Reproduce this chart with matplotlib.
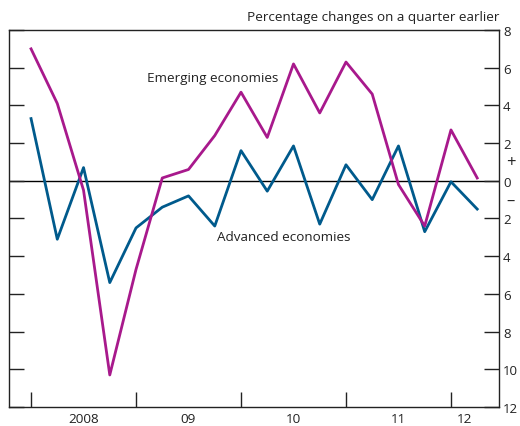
import numpy as np
import matplotlib.pyplot as plt
import matplotlib.transforms as mtransforms

plt.rcParams['font.family'] = ['Open Sans', 'DejaVu Sans']

# quarterly, 2008 Q1 to 2012 Q2
quarters = np.arange(18)
emerging = [7.0, 4.1, -0.5, -10.3, -4.7, 0.15, 0.6, 2.4, 4.7, 2.3,
            6.2, 3.6, 6.3, 4.6, -0.2, -2.4, 2.7, 0.15]
advanced = [3.3, -3.1, 0.7, -5.4, -2.5, -1.4, -0.8, -2.4, 1.6, -0.55,
            1.85, -2.3, 0.85, -1.0, 1.85, -2.7, -0.05, -1.5]
year_labels = ['2008', '09', '10', '11', '12']
year_label_pos = [2, 6, 10, 14, 16.5]
year_ticks = [0, 4, 8, 12, 16]
y_ticks = np.arange(-12, 9, 2)

magenta = '#A8198C'
blue = '#005A8C'
txt = '#222222'

fig = plt.figure(figsize=(5.2, 4.27), dpi=100)
ax = fig.add_axes([0.0173, 0.0445, 0.9423, 0.8829])

ax.axhline(0, color='black', lw=1.0, zorder=1)
ax.plot(quarters, emerging, color=magenta, lw=2.0, zorder=3)
ax.plot(quarters, advanced, color=blue, lw=2.0, zorder=2)

ax.set_xlim(-0.84, 17.83)
ax.set_ylim(-12, 8)

for s in ax.spines.values():
    s.set_linewidth(1.0)
    s.set_color(txt)

ax.set_yticks(y_ticks)
ax.set_yticklabels([str(abs(v)) for v in y_ticks])
ax.tick_params(axis='y', direction='in', length=11, width=1.0, color=txt,
               left=True, right=True, labelleft=False, labelright=True,
               labelsize=9.5, pad=3, labelcolor=txt)
ax.set_xticks(year_ticks)
ax.set_xticklabels([])
ax.tick_params(axis='x', direction='in', length=11, width=1.0, color=txt)

# year labels sit between the ticks, just under the axis
xt = mtransforms.blended_transform_factory(ax.transData, fig.transFigure)
for lab, pos in zip(year_labels, year_label_pos):
    ax.text(pos, 0.003, lab, transform=xt, ha='center', va='bottom',
            fontsize=9.7, color=txt, clip_on=False)

# sign markers on the right axis
yt = mtransforms.blended_transform_factory(ax.transAxes, ax.transData)
ax.text(1.024, 1.0, '+', transform=yt, ha='center', va='center',
        fontsize=12, color=txt, clip_on=False)
ax.text(1.024, -1.05, '\u2013', transform=yt, ha='center', va='center',
        fontsize=12, color=txt, clip_on=False)

ax.text(1.0, 1.018, 'Percentage changes on a quarter earlier', transform=ax.transAxes,
        ha='right', va='bottom', fontsize=9.7, color=txt)
ax.text(4.4, 5.5, 'Emerging economies', fontsize=9.7, color=txt, va='center')
ax.text(7.1, -2.95, 'Advanced economies', fontsize=9.7, color=txt, va='center')

fig.savefig('out.png', dpi=100)
